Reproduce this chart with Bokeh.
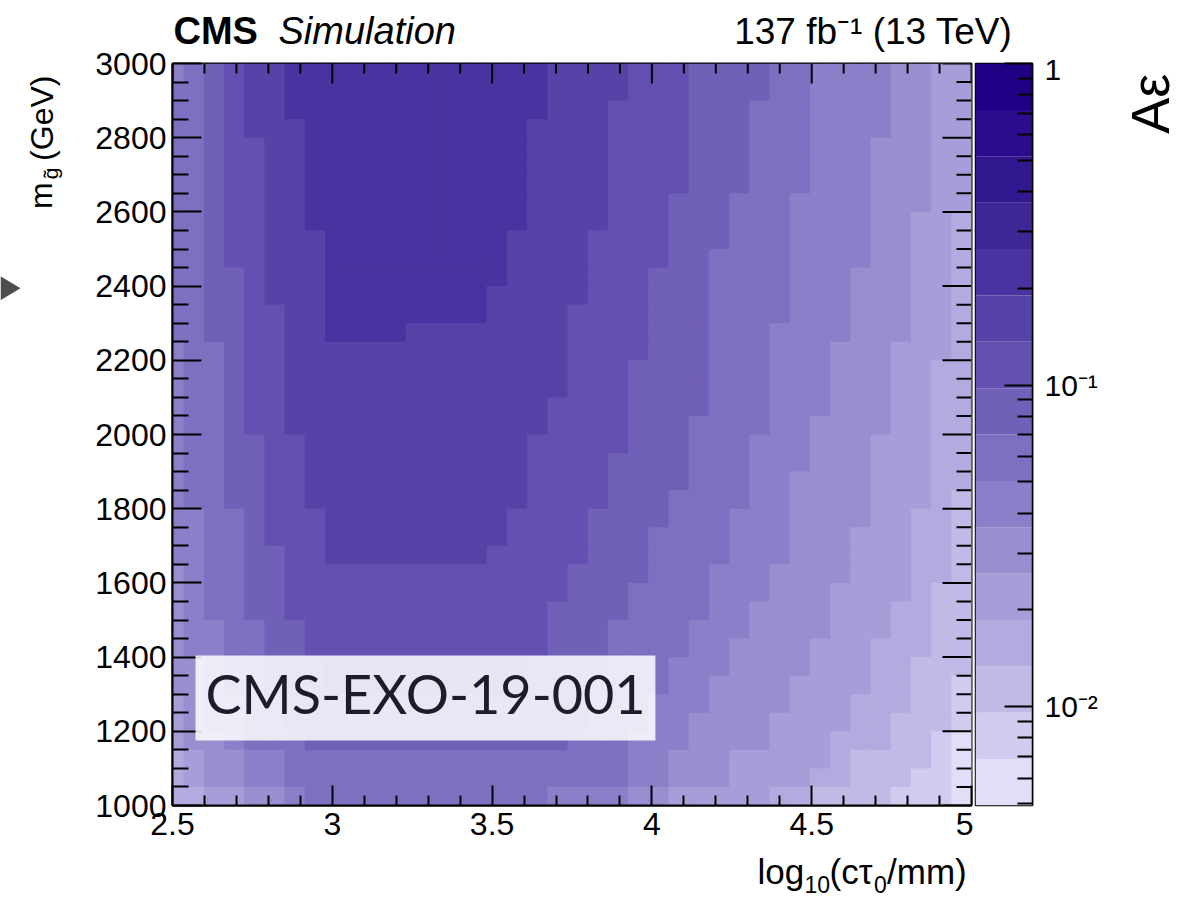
import numpy as np
from bokeh.plotting import figure
from bokeh.models import (ColumnDataSource, LogColorMapper, FixedTicker, Range1d,
                          BoxAnnotation, Label)
from bokeh.layouts import row, column
from bokeh.transform import transform
from bokeh.core.properties import value
from bokeh.embed import file_html
from bokeh.resources import INLINE

# ---------------- data ----------------
x_first_edge, x_last_edge = 2.4715, 5.0      # 40 columns, first one partly left of the axis
y_first_edge, y_last_edge = 1000.0, 3000.0   # 40 rows of 50 GeV
n_cols, n_rows = 40, 40

z_min, z_max = 0.00493, 1.0                  # colour-scale range (log)
n_levels = 16                                # contour bands

# band colours, darkest (top of the colour bar) first
band_colors = ["#1f0084", "#2a0c8c", "#33198f", "#3e2697", "#4a33a0", "#5743a8",
               "#6450b0", "#7160b8", "#7e6fc0", "#8a7fc8", "#978fd0", "#a59ed8",
               "#b2abdf", "#c0bae6", "#d0cbef", "#e1def8"]

# colour band of each cell (hex digit, 0 = darkest), top row (2950-3000 GeV) first
level_rows = [
    "987655444444444444455556667777889999aabb",
    "887655444444444444455556667777889999aabb",
    "887655444444444444455566667778889999aabb",
    "887655544444444444555566667778889999aabb",
    "88766554444444444455556666777888999aaabb",
    "88766554444444444455556666777888999aaabb",
    "88766554444444444455556666777888999aaabb",
    "88766554444444444455556667778889999aaabb",
    "88766554444444444455556667778889999aabbc",
    "88766555444444444555566667778889999aabbc",
    "88766555444444444555566667788889999aabbc",
    "8877655544444444455556667778888999aaabbc",
    "8877655544444444555556667778888999aaabbc",
    "8877665544444444555566667778888999aaabbc",
    "8877665544445555555566667778889999aaabbc",
    "988766555555555555556666777888999aaabbbc",
    "988766555555555555556667777888999aaabbcc",
    "988766555555555555556667777888999aaabbcc",
    "988766555555555555566667777888999aaabbcc",
    "98876655555555555556666777888899aaaabbcc",
    "98877665555555555566666777888999aaabbbcc",
    "98877665555555555566667777888999aaabbbcc",
    "9887766555555555556666777788899aaaabbbcc",
    "9887766555555555556666777888899aaaabbbcd",
    "9988766655555555566667777888999aaaabbccd",
    "9988766655555555566667778888999aaabbbccd",
    "9988776655555555666667778888999aaabbbccd",
    "a98877666666666666667777888999aaaabbbccd",
    "a98877666666666666667778888999aaabbbbcdd",
    "a9887766666666666667777888899aaaabbbccdd",
    "a9988776666666666667778888999aaaabbbccdd",
    "a998877666666666666777888899aaaabbbcccdd",
    "aa98877766666666667777888999aaaabbbccddd",
    "aa9887776666666666777888899aaaabbbbccdde",
    "ba9988777777777777777888999aaaabbbcccdde",
    "ba998877777777777777788899aaaabbbbccddde",
    "baa98887777777777777888999aaaabbbcccddef",
    "cbaa998888888888888888899aaabbbbbcddddef",
    "cbaa998888888888888888899aaabbbbccdddeef",
    "ccbbaa98888888888889999aabbbbbccddddeeef",
]

# axis ticks
x_major = [2.5, 3.0, 3.5, 4.0, 4.5, 5.0]
x_minor = [2.6, 2.7, 2.8, 2.9, 3.1, 3.2, 3.3, 3.4, 3.6, 3.7, 3.8, 3.9,
           4.1, 4.2, 4.3, 4.4, 4.6, 4.7, 4.8, 4.9]
x_labels = {2.5: "2.5", 3.0: "3", 3.5: "3.5", 4.0: "4", 4.5: "4.5", 5.0: "5"}
y_major = [1000, 1200, 1400, 1600, 1800, 2000, 2200, 2400, 2600, 2800, 3000]
y_minor = [1050, 1100, 1150, 1250, 1300, 1350, 1450, 1500, 1550, 1650, 1700, 1750,
           1850, 1900, 1950, 2050, 2100, 2150, 2250, 2300, 2350, 2450, 2500, 2550,
           2650, 2700, 2750, 2850, 2900, 2950]
cb_major = [0.01, 0.1, 1.0]
cb_labels = {0.01: "10\u207b\u00b2", 0.1: "10\u207b\u00b9", 1.0: "1"}
cb_minor = [0.005, 0.006, 0.007, 0.008, 0.009, 0.02, 0.03, 0.04, 0.05, 0.06, 0.07,
            0.08, 0.09, 0.2, 0.3, 0.4, 0.5, 0.6, 0.7, 0.8, 0.9]

# ---------------- layout constants (page pixels) ----------------
FONT = "Liberation Sans"
W, H = 1195, 897
HEAD = 52          # header strip height
MID_H = 799        # middle row height (52 .. 851)
FOOT = H - HEAD - MID_H
LEFT_W, MAIN_W, CB_W = 75, 898, 137
RIGHT_W = W - LEFT_W - MAIN_W - CB_W
FRAME_W, FRAME_H = 799, 742
PX_X = FRAME_W / 2.5          # pixels per unit of log10(ctau)
PX_Y = FRAME_H / 2000.0       # pixels per GeV
OVERLAP_X, OVERLAP_Y = 1.0 / PX_X, 1.0 / PX_Y   # 1 px overlap hides seams between cells

# ---------------- cell table ----------------
xe = np.linspace(x_first_edge, x_last_edge, n_cols + 1)
ye = np.linspace(y_last_edge, y_first_edge, n_rows + 1)
band_edges = np.logspace(np.log10(z_min), np.log10(z_max), n_levels + 1)
cells = dict(left=[], right=[], top=[], bottom=[], val=[])
for r, s in enumerate(level_rows):
    for c, ch in enumerate(s):
        L = int(ch, 16)
        lo, hi = band_edges[n_levels - 1 - L], band_edges[n_levels - L]
        cells["left"].append(xe[c]); cells["right"].append(xe[c + 1] + OVERLAP_X)
        cells["top"].append(ye[r]); cells["bottom"].append(ye[r + 1] - OVERLAP_Y)
        cells["val"].append(float(np.sqrt(lo * hi)))
src = ColumnDataSource(cells)

mapper = LogColorMapper(palette=band_colors[::-1], low=z_min, high=z_max)


def strip(width, height, top_page_y, left_page_x):
    f = figure(width=width, height=height, output_backend="svg", toolbar_location=None,
               x_range=Range1d(left_page_x, left_page_x + width),
               y_range=Range1d(-(top_page_y + height), -top_page_y),
               x_axis_type=None, y_axis_type=None, min_border=0, title=None)
    f.outline_line_color = None
    f.grid.visible = False
    return f


def txt(f, text, x, y, size, style="normal", align="left", angle=0.0, font=FONT, color="black"):
    # (x, y): page position of the baseline anchor; drawn with a "middle" baseline
    off = 0.3465 * size
    if angle == 0.0:
        xx, yy = x, y - off
    else:                       # text rotated by +90 degrees (reads upwards)
        xx, yy = x - off, y
    f.text(x=[xx], y=[-yy], text=[text], text_font=value(font), text_font_size=f"{size}px",
           text_font_style=style, text_align=align, text_baseline="middle",
           angle=angle, text_color=color)


# ---------------- header ----------------
head = strip(W, HEAD, 0, 0)
txt(head, "CMS", 173, 43.8, 38, style="bold")
txt(head, "Simulation", 278, 43.8, 38, style="italic")
txt(head, "137 fb\u207b\u00b9 (13 TeV)", 1012, 43.8, 37, align="right")

# ---------------- left strip (y title) ----------------
left = strip(LEFT_W, MID_H, HEAD, 0)
left.patch(x=[0, 20, 0], y=[-281, -294, -307], fill_color="#4d4d4d", line_color=None)
txt(left, "(GeV)", 53, 65, 32, align="right", angle=np.pi / 2)
txt(left, "g\u0303", 57, 164, 21, align="right", angle=np.pi / 2)
txt(left, "m", 52, 180, 32, align="right", angle=np.pi / 2)

# ---------------- main plot ----------------
p = figure(width=MAIN_W, height=MID_H, x_range=Range1d(2.5, 5.0), y_range=Range1d(1000, 3000),
           output_backend="svg", toolbar_location=None, title=None,
           min_border_left=172 - LEFT_W, min_border_right=MAIN_W - (172 - LEFT_W) - FRAME_W,
           min_border_top=63 - HEAD, min_border_bottom=MID_H - (63 - HEAD) - FRAME_H)
p.grid.visible = False
p.outline_line_color = "black"
p.outline_line_width = 2

p.quad(left="left", right="right", top="top", bottom="bottom", source=src,
       fill_color=transform("val", mapper), line_color=None)

for ax, tin, tmin in ((p.xaxis[0], 20, 10), (p.yaxis[0], 29, 16)):
    ax.axis_line_color = "black"
    ax.axis_line_width = 2
    ax.major_tick_in, ax.major_tick_out = tin, 0
    ax.minor_tick_in, ax.minor_tick_out = tmin, 0
    ax.major_tick_line_width = 2
    ax.minor_tick_line_width = 2
    ax.major_label_text_font = FONT
    ax.major_label_text_font_size = "32px"
    ax.major_label_text_color = "black"
p.xaxis.ticker = FixedTicker(ticks=x_major, minor_ticks=x_minor)
p.yaxis.ticker = FixedTicker(ticks=y_major, minor_ticks=y_minor)
p.xaxis.major_label_overrides = x_labels
p.xaxis.major_label_standoff = 7
p.yaxis.major_label_standoff = 6

# mirrored tick marks on the top and right edges
p.segment(x0=x_major, y0=[3000] * len(x_major), x1=x_major,
          y1=[3000 - 20 / PX_Y] * len(x_major), line_color="black", line_width=2)
p.segment(x0=x_minor, y0=[3000] * len(x_minor), x1=x_minor,
          y1=[3000 - 10 / PX_Y] * len(x_minor), line_color="black", line_width=2)
p.segment(x0=[5.0] * len(y_major), y0=y_major, x1=[5.0 - 29 / PX_X] * len(y_major),
          y1=y_major, line_color="black", line_width=2)
p.segment(x0=[5.0] * len(y_minor), y0=y_minor, x1=[5.0 - 15 / PX_X] * len(y_minor),
          y1=y_minor, line_color="black", line_width=2)

# information box
p.add_layout(BoxAnnotation(left=2.572, right=4.011, bottom=1175, top=1404,
                           fill_color="white", fill_alpha=0.85, line_color=None))
p.add_layout(Label(x=2.5 + 33 / PX_X, y=1000 + 80 / PX_Y, text="CMS-EXO-19-001",
                   text_font="Lato", text_font_size="54px", text_color="#1c1c2c"))

# ---------------- colour bar ----------------
cb = figure(width=CB_W, height=MID_H, x_range=Range1d(0, 1), y_range=Range1d(z_min, z_max),
            y_axis_type="log", y_axis_location="right", x_axis_type=None,
            output_backend="svg", toolbar_location=None, title=None,
            min_border_left=2, min_border_right=CB_W - 2 - 57,
            min_border_top=63 - HEAD, min_border_bottom=MID_H - (63 - HEAD) - 745)
cb.grid.visible = False
cb.outline_line_color = "black"
cb.outline_line_width = 1.5
cb_src = ColumnDataSource(dict(bottom=band_edges[:-1], top=band_edges[1:],
                               val=np.sqrt(band_edges[:-1] * band_edges[1:])))
cb.quad(left=0, right=1, bottom="bottom", top="top", source=cb_src,
        fill_color=transform("val", mapper), line_color=None)
ya = cb.yaxis[0]
ya.ticker = FixedTicker(ticks=cb_major, minor_ticks=cb_minor)
ya.major_label_overrides = cb_labels
ya.axis_line_color = "black"
ya.axis_line_width = 1.5
ya.major_tick_in, ya.major_tick_out = 28, 0
ya.minor_tick_in, ya.minor_tick_out = 15, 0
ya.major_tick_line_width = 2
ya.minor_tick_line_width = 2
ya.major_label_text_font = FONT
ya.major_label_text_font_size = "30px"
ya.major_label_text_color = "black"
ya.major_label_standoff = 12

# ---------------- right strip (colour-bar title) ----------------
right = strip(RIGHT_W, MID_H, HEAD, LEFT_W + MAIN_W + CB_W)
txt(right, "A\u03b5", 1168, 63, 54, align="right", angle=np.pi / 2)

# ---------------- footer (x title) ----------------
foot = strip(W, FOOT, HEAD + MID_H, 0)
txt(foot, "log", 757, 883, 35)
txt(foot, "10", 804, 892, 23)
txt(foot, "(c\u03c4", 829, 883, 35)
txt(foot, "0", 873.5, 892, 23)
txt(foot, "/mm)", 886.5, 883, 35)

layout = column(head, row(left, p, cb, right), foot)
open("out.html", "w").write(file_html(layout, INLINE))
